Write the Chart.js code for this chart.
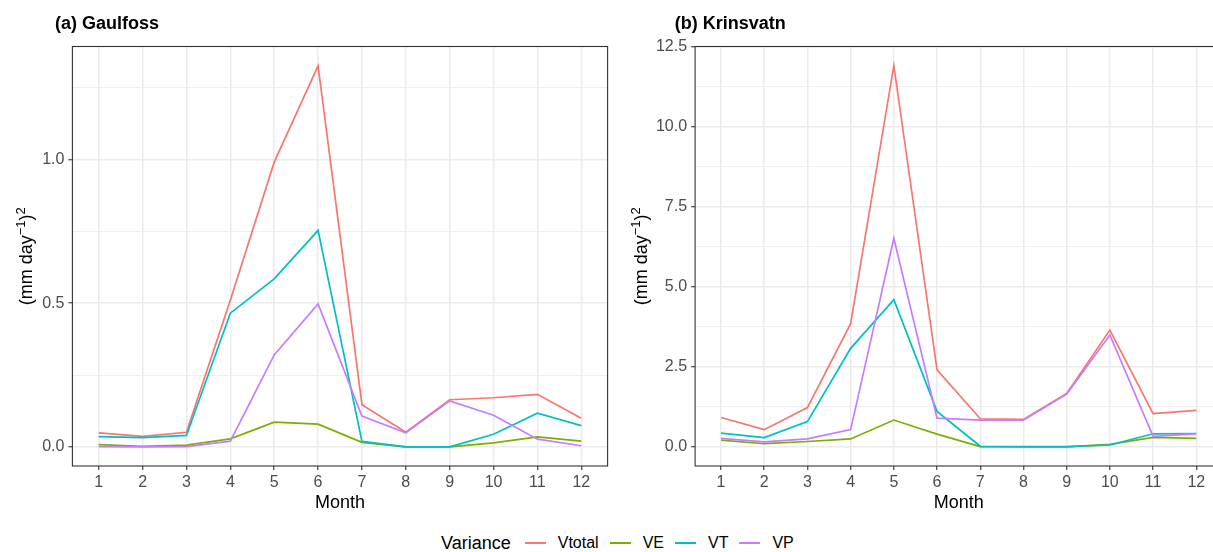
<!DOCTYPE html>
<html><head><meta charset="utf-8">
<script src="https://cdn.jsdelivr.net/npm/chart.js@4.4.1/dist/chart.umd.min.js"></script>
<style>
html,body{margin:0;padding:0;background:#fff;width:1213px;height:552px;overflow:hidden;position:relative;font-family:"Liberation Sans",Arial,sans-serif;}
#c1{position:absolute;left:0;top:0;}
#c2{position:absolute;left:612px;top:0;}
#legend{position:absolute;left:441px;top:530px;height:26px;display:flex;align-items:center;white-space:nowrap;color:#000;}
#legend .ttl{font-size:18px;margin-right:14px;}
#legend .key{display:inline-block;width:21px;height:1.7px;margin-right:12px;}
#legend .lab{font-size:16px;margin-right:11px;}
</style>
</head><body>
<canvas id="c1" width="612" height="520"></canvas>
<canvas id="c2" width="620" height="520"></canvas>
<div id="legend"></div>
<script>
const months = [1,2,3,4,5,6,7,8,9,10,11,12];
const seriesNames = ['Vtotal','VE','VT','VP'];
const seriesColors = ['#F8766D','#7CAE00','#00BFC4','#C77CFF'];

// (a) Gaulfoss
const gaulVtotal = [0.049,0.037,0.051,0.51,0.99,1.325,0.147,0.051,0.164,0.171,0.183,0.100];
const gaulVE     = [0.008,0.002,0.006,0.028,0.086,0.079,0.016,0.0,0.0,0.014,0.035,0.020];
const gaulVT     = [0.036,0.032,0.040,0.465,0.584,0.753,0.019,0.0,0.0,0.044,0.117,0.074];
const gaulVP     = [0.001,0.0,0.001,0.020,0.320,0.497,0.107,0.049,0.160,0.110,0.027,0.004];
const gaulMajorTicks = [0, 0.5, 1.0];
const gaulMinorTicks = [0.25, 0.75, 1.25];

// (b) Krinsvatn
const krinVtotal = [0.92,0.54,1.23,3.85,11.91,2.41,0.88,0.86,1.67,3.65,1.04,1.14];
const krinVE     = [0.21,0.10,0.17,0.25,0.84,0.40,0.01,0.0,0.0,0.08,0.30,0.27];
const krinVT     = [0.43,0.29,0.79,3.08,4.60,1.11,0.02,0.01,0.01,0.06,0.41,0.42];
const krinVP     = [0.27,0.16,0.25,0.54,6.52,0.90,0.84,0.84,1.65,3.50,0.33,0.41];
const krinMajorTicks = [0, 2.5, 5.0, 7.5, 10.0, 12.5];
const krinMinorTicks = [1.25, 3.75, 6.25, 8.75, 11.25];

const FAMILY = '"Liberation Sans", Arial, Helvetica, sans-serif';

function drawYTitle(ctx, cx, cy) {
  const parts = [['(mm day',18,0],['\u22121',13,7],[')',18,0],['2',13,7]];
  ctx.save();
  let total = 0;
  parts.forEach(p => { ctx.font = p[1] + 'px ' + FAMILY; total += ctx.measureText(p[0]).width; });
  ctx.translate(cx, cy);
  ctx.rotate(-Math.PI/2);
  ctx.fillStyle = '#000';
  ctx.textBaseline = 'alphabetic';
  ctx.textAlign = 'left';
  let x = -total/2;
  parts.forEach(p => {
    ctx.font = p[1] + 'px ' + FAMILY;
    ctx.fillText(p[0], x, -p[2]);
    x += ctx.measureText(p[0]).width;
  });
  ctx.restore();
}

const decor = {
  id: 'decor',
  afterDraw(chart) {
    const o = chart.options.plugins.decor;
    const ctx = chart.ctx, a = chart.chartArea;
    ctx.save();
    ctx.strokeStyle = '#333333';
    ctx.lineWidth = 1.1;
    ctx.strokeRect(a.left, a.top, a.right - a.left, a.bottom - a.top);
    ctx.fillStyle = '#000';
    ctx.font = 'bold 18px ' + FAMILY;
    ctx.textAlign = 'left';
    ctx.textBaseline = 'alphabetic';
    ctx.fillText(o.title, o.titleX, 28.5);
    ctx.font = '18px ' + FAMILY;
    ctx.textAlign = 'center';
    ctx.fillText('Month', (a.left + a.right)/2, 507.5);
    ctx.restore();
    drawYTitle(ctx, o.yTitleX, (a.top + a.bottom)/2);
  }
};

function makeChart(id, cfg) {
  const majors = cfg.major, minors = cfg.minor;
  const allTicks = majors.concat(minors).sort((p,q)=>p-q);
  const isMajor = v => majors.some(m => Math.abs(m - v) < 1e-9);
  const datasets = cfg.series.map((vals,i) => ({
    label: seriesNames[i],
    data: months.map((m,j) => ({x:m, y:vals[j]})),
    borderColor: seriesColors[i],
    backgroundColor: seriesColors[i],
    borderWidth: 1.7,
    pointRadius: 0,
    pointHoverRadius: 0,
    tension: 0,
    fill: false,
    order: seriesNames.length - i
  }));
  return new Chart(document.getElementById(id), {
    type: 'line',
    data: { datasets },
    options: {
      responsive: false,
      animation: false,
      devicePixelRatio: 1,
      events: [],
      layout: { padding: { left: 0, top: 46.5, right: cfg.padRight, bottom: 0 } },
      plugins: {
        legend: { display: false },
        tooltip: { enabled: false },
        decor: { title: cfg.title, titleX: cfg.titleX, yTitleX: cfg.yTitleX }
      },
      scales: {
        x: {
          type: 'linear', min: 0.4, max: 12.6,
          afterBuildTicks: s => { s.ticks = months.map(v => ({value: v})); },
          afterFit: s => { s.height = 54; },
          ticks: { color: '#4D4D4D', font: { family: FAMILY, size: 16 }, padding: 3, maxRotation: 0, autoSkip: false, callback: v => String(v) },
          grid: { color: '#EBEBEB', lineWidth: 1.5, tickColor: '#333333', tickWidth: 1.1, tickLength: 4, drawTicks: true },
          border: { display: false }
        },
        y: {
          type: 'linear', min: cfg.ymin, max: cfg.ymax,
          afterBuildTicks: s => { s.ticks = allTicks.map(v => ({value: v})); },
          afterFit: s => { s.width = cfg.yAxisW; },
          ticks: { color: '#4D4D4D', font: { family: FAMILY, size: 16 }, padding: 4, autoSkip: false, callback: v => isMajor(v) ? v.toFixed(1) : '' },
          grid: {
            color: c => (c.tick && isMajor(c.tick.value)) ? '#EBEBEB' : '#EFEFEF',
            lineWidth: c => (c.tick && isMajor(c.tick.value)) ? 1.5 : 1,
            tickColor: c => (c.tick && isMajor(c.tick.value)) ? '#333333' : 'rgba(0,0,0,0)',
            tickWidth: 1.1, tickLength: 4, drawTicks: true
          },
          border: { display: false }
        }
      }
    },
    plugins: [decor]
  });
}

makeChart('c1', {
  title: '(a) Gaulfoss', titleX: 55, yTitleX: 31.5,
  series: [gaulVtotal, gaulVE, gaulVT, gaulVP],
  major: gaulMajorTicks, minor: gaulMinorTicks,
  ymin: -0.0663, ymax: 1.392, yAxisW: 72.4, padRight: 4.4
});
makeChart('c2', {
  title: '(b) Krinsvatn', titleX: 62.8, yTitleX: 34.5,
  series: [krinVtotal, krinVE, krinVT, krinVP],
  major: krinMajorTicks, minor: krinMinorTicks,
  ymin: -0.596, ymax: 12.51, yAxisW: 83.1, padRight: 9.8
});

// legend
const lg = document.getElementById('legend');
const t = document.createElement('span'); t.className = 'ttl'; t.textContent = 'Variance'; lg.appendChild(t);
seriesNames.forEach((n,i) => {
  const k = document.createElement('span'); k.className = 'key'; k.style.background = seriesColors[i]; lg.appendChild(k);
  const l = document.createElement('span'); l.className = 'lab'; l.textContent = n; lg.appendChild(l);
});
</script>
</body></html>
